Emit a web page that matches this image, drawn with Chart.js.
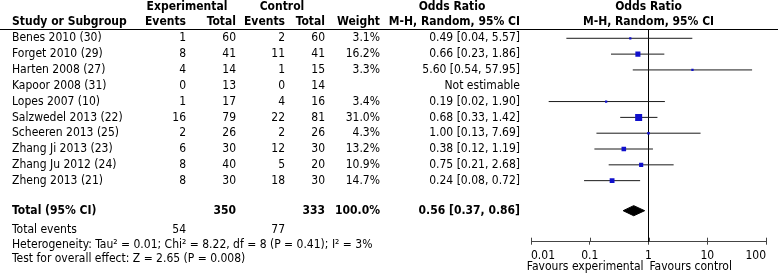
<!DOCTYPE html>
<html>
<head>
<meta charset="utf-8">
<script src="https://cdn.jsdelivr.net/npm/chart.js@4.4.0/dist/chart.umd.min.js"></script>
<style>
  body { margin: 0; background: #fff; }
</style>
</head>
<body>
<canvas id="forest" width="778" height="274"></canvas>
<script>
var studies = [
  "Benes 2010 (30)", "Forget 2010 (29)", "Harten 2008 (27)", "Kapoor 2008 (31)",
  "Lopes 2007 (10)", "Salzwedel 2013 (22)", "Scheeren 2013 (25)",
  "Zhang Ji 2013 (23)", "Zhang Ju 2012 (24)", "Zheng 2013 (21)"
];
var expEvents = [1, 8, 4, 0, 1, 16, 2, 6, 8, 8];
var expTotal = [60, 41, 14, 13, 17, 79, 26, 30, 40, 30];
var ctrlEvents = [2, 11, 1, 0, 4, 22, 2, 12, 5, 18];
var ctrlTotal = [60, 41, 15, 14, 16, 81, 26, 30, 20, 30];
var weights = [3.1, 16.2, 3.3, null, 3.4, 31.0, 4.3, 13.2, 10.9, 14.7];
var oddsRatio = [0.49, 0.66, 5.60, null, 0.19, 0.68, 1.00, 0.38, 0.75, 0.24];
var ciLow = [0.04, 0.23, 0.54, null, 0.02, 0.33, 0.13, 0.12, 0.21, 0.08];
var ciHigh = [5.57, 1.86, 57.95, null, 1.90, 1.42, 7.69, 1.19, 2.68, 0.72];

var pooled = [0.56, 0.37, 0.86]; // OR, low, high
var totals = [350, 333];
var totalEvents = [54, 77];

var xTicks = [0.01, 0.1, 1, 10, 100];
var xTickLabels = ["0.01", "0.1", "1", "10", "100"];

var FONT = '"DejaVu Sans Condensed", "DejaVu Sans", sans-serif';
var totalRow = 10.9;
var yMin = -0.556, yMax = 12.86;

var datasets = [];

// squares, size by weight
var squarePts = [], squareR = [];
for (var i = 0; i < studies.length; i++) {
  if (oddsRatio[i] == null) continue;
  squarePts.push({ x: oddsRatio[i], y: i });
  squareR.push(7 * Math.sqrt(weights[i] / 31) / Math.SQRT2);
}
datasets.push({
  type: "scatter",
  data: squarePts,
  pointStyle: "rect",
  pointRadius: squareR,
  pointBackgroundColor: "#1010cc",
  pointBorderWidth: 0,
  order: 0
});

// pooled diamond
var dh = 0.32;
datasets.push({
  type: "line",
  data: [
    { x: pooled[1], y: totalRow },
    { x: pooled[0], y: totalRow - dh },
    { x: pooled[2], y: totalRow },
    { x: pooled[0], y: totalRow + dh },
    { x: pooled[1], y: totalRow }
  ],
  borderColor: "#000",
  borderWidth: 1,
  backgroundColor: "#000",
  fill: "shape",
  pointRadius: 0,
  tension: 0,
  order: 1
});

// confidence intervals
for (var j = 0; j < studies.length; j++) {
  if (ciLow[j] == null) continue;
  datasets.push({
    type: "line",
    data: [{ x: ciLow[j], y: j }, { x: ciHigh[j], y: j }],
    borderColor: "#1a1a1a",
    borderWidth: 1,
    pointRadius: 0,
    fill: false,
    order: 2
  });
}

// line of no effect
datasets.push({
  type: "line",
  data: [{ x: 1, y: yMin }, { x: 1, y: yMax }],
  borderColor: "#000",
  borderWidth: 1,
  pointRadius: 0,
  fill: false,
  order: 3
});

function fmt(v) { return v.toFixed(2); }

var tablePlugin = {
  id: "table",
  afterDraw: function (chart) {
    var ctx = chart.ctx;
    var ys = chart.scales.y;
    var xs = chart.scales.x;
    var reg = "12px " + FONT;
    var bold = "bold 12px " + FONT;
    ctx.save();
    ctx.fillStyle = "#000";
    ctx.textBaseline = "middle";

    function txt(s, x, y, align, font) {
      ctx.font = font || reg;
      ctx.textAlign = align;
      ctx.fillText(s, x, y);
    }

    // header
    txt("Experimental", 187, 6.5, "center", bold);
    txt("Control", 282, 6.5, "center", bold);
    txt("Odds Ratio", 452, 6.5, "center", bold);
    txt("Odds Ratio", xs.getPixelForValue(1), 6.5, "center", bold);
    txt("Study or Subgroup", 12, 21.5, "left", bold);
    txt("Events", 186, 21.5, "right", bold);
    txt("Total", 236, 21.5, "right", bold);
    txt("Events", 285, 21.5, "right", bold);
    txt("Total", 325, 21.5, "right", bold);
    txt("Weight", 380, 21.5, "right", bold);
    txt("M-H, Random, 95% CI", 520, 21.5, "right", bold);
    txt("M-H, Random, 95% CI", xs.getPixelForValue(1), 21.5, "center", bold);

    ctx.strokeStyle = "#000";
    ctx.lineWidth = 1;
    ctx.beginPath();
    ctx.moveTo(0, 29.5);
    ctx.lineTo(chart.width, 29.5);
    ctx.stroke();

    for (var i = 0; i < studies.length; i++) {
      var y = ys.getPixelForValue(i);
      txt(studies[i], 12, y, "left");
      txt(String(expEvents[i]), 186, y, "right");
      txt(String(expTotal[i]), 236, y, "right");
      txt(String(ctrlEvents[i]), 285, y, "right");
      txt(String(ctrlTotal[i]), 325, y, "right");
      if (weights[i] != null) txt(weights[i].toFixed(1) + "%", 380, y, "right");
      if (oddsRatio[i] != null) {
        txt(fmt(oddsRatio[i]) + " [" + fmt(ciLow[i]) + ", " + fmt(ciHigh[i]) + "]", 520, y, "right");
      } else {
        txt("Not estimable", 520, y, "right");
      }
    }

    var ty = ys.getPixelForValue(totalRow);
    txt("Total (95% CI)", 12, ty, "left", bold);
    txt(String(totals[0]), 236, ty, "right", bold);
    txt(String(totals[1]), 325, ty, "right", bold);
    txt("100.0%", 380, ty, "right", bold);
    txt(fmt(pooled[0]) + " [" + fmt(pooled[1]) + ", " + fmt(pooled[2]) + "]", 520, ty, "right", bold);

    var ey = ys.getPixelForValue(12.1);
    txt("Total events", 12, ey, "left");
    txt(String(totalEvents[0]), 186, ey, "right");
    txt(String(totalEvents[1]), 285, ey, "right");
    txt("Heterogeneity: Tau\u00b2 = 0.01; Chi\u00b2 = 8.22, df = 8 (P = 0.41); I\u00b2 = 3%", 12, ys.getPixelForValue(13.05), "left");
    txt("Test for overall effect: Z = 2.65 (P = 0.008)", 12, ys.getPixelForValue(13.95), "left");

    // upper halves of the axis ticks
    var axisY = chart.chartArea.bottom;
    ctx.strokeStyle = "#444";
    ctx.beginPath();
    xs.ticks.forEach(function (t) {
      var px = Math.round(xs.getPixelForValue(t.value)) + 0.5;
      ctx.moveTo(px, axisY - 4);
      ctx.lineTo(px, axisY);
    });
    ctx.stroke();

    var fx = xs.getPixelForValue(1);
    txt("Favours experimental", fx - 5, 267, "right");
    txt("Favours control", fx + 1, 267, "left");
    ctx.restore();
  }
};

new Chart(document.getElementById("forest"), {
  type: "scatter",
  data: { datasets: datasets },
  options: {
    responsive: false,
    animation: false,
    devicePixelRatio: 1,
    layout: { padding: { left: 531, right: 12, top: 29.5, bottom: 0 } },
    plugins: { legend: { display: false }, tooltip: { enabled: false } },
    scales: {
      x: {
        type: "logarithmic",
        min: 0.01,
        max: 100,
        afterBuildTicks: function (scale) {
          scale.ticks = xTicks.map(function (v) { return { value: v }; });
        },
        afterFit: function (scale) {
          scale.height = 32.3;
        },
        ticks: {
          padding: 4,
          align: "inner",
          color: "#000",
          autoSkip: false,
          maxRotation: 0,
          font: { family: FONT, size: 12 },
          callback: function (v, idx) { return xTickLabels[idx]; }
        },
        grid: { drawOnChartArea: false, tickLength: 3, color: "#444" },
        border: { color: "#444", width: 1 }
      },
      y: {
        type: "linear",
        display: false,
        reverse: true,
        min: yMin,
        max: yMax
      }
    }
  },
  plugins: [tablePlugin]
});
</script>
</body>
</html>
